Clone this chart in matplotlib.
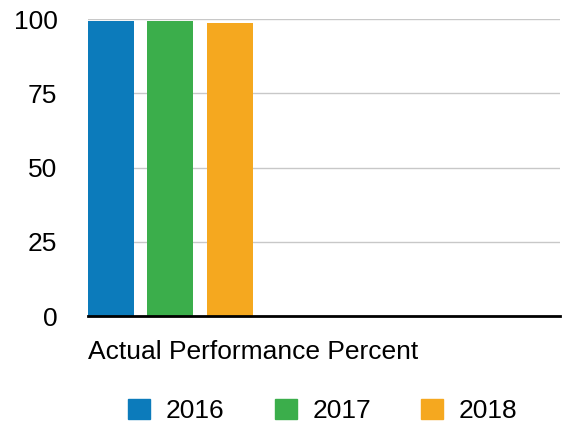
import matplotlib
matplotlib.use('Agg')
import matplotlib.pyplot as plt
from matplotlib.patches import Patch

# data
years = ['2016', '2017', '2018']
values = [99.3, 99.3, 98.7]
colors = ['#0c7bbb', '#3bae4b', '#f5a81f']
y_ticks = [0, 25, 50, 75, 100]
x_label = 'Actual Performance Percent'

plt.rcParams['font.family'] = ['Liberation Sans', 'DejaVu Sans']

fig = plt.figure(figsize=(5.66, 4.23), dpi=100)
W, H = 566, 423
left, right, top, bottom = 88, 560, 19, 316
ax = fig.add_axes([left / W, 1 - bottom / H, (right - left) / W, (bottom - top) / H])

width = 0.77
for i, (year, val, color) in enumerate(zip(years, values, colors)):
    ax.bar(i, val, width=width, color=color, label=year, zorder=2)

ax.set_xlim(-width / 2, 7.55)
ax.set_ylim(0, 100)
ax.set_yticks(y_ticks)
ax.set_xticks([])
ax.tick_params(axis='y', length=0, pad=22, labelsize=19)
ax.grid(True, axis='y', color='#c8c8c8', linewidth=1, zorder=0)
for side in ['top', 'right', 'left']:
    ax.spines[side].set_visible(False)
ax.spines['bottom'].set_linewidth(2)
ax.spines['bottom'].set_color('black')
ax.spines['bottom'].set_zorder(3)

fig.text(left / W, 1 - 352 / H, x_label, fontsize=19, ha='left', va='center')

handles = [Patch(color=c, label=y) for y, c in zip(years, colors)]
fig.legend(handles=handles, loc='center', bbox_to_anchor=(323 / W, 1 - 411 / H),
           ncol=3, frameon=False, fontsize=19, handlelength=0.83, handleheight=0.83,
           handletextpad=0.6, columnspacing=1.9, borderaxespad=0, borderpad=0)

fig.savefig('out.png', dpi=100)
